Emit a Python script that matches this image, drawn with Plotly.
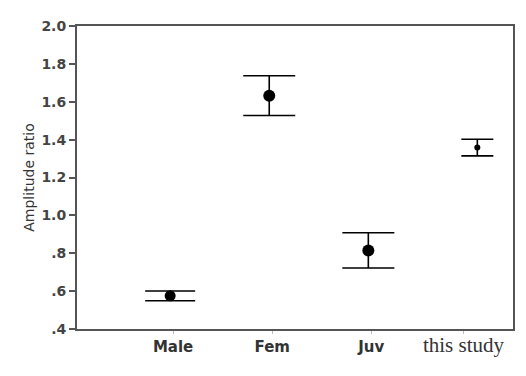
import plotly.graph_objects as go

# Group means with symmetric error half-widths (amplitude ratio)
categories = ["Male", "Fem", "Juv", "this study"]
means = [0.575, 1.632, 0.815, 1.358]
errors = [0.026, 0.105, 0.093, 0.044]

# Horizontal placement of groups and their labels
x_pos = [1, 2, 3, 4.1]
label_pos = [1.03, 2.03, 3.03, 3.96]
marker_sizes = [11, 12, 12, 6]
cap_halfwidth = [25, 26, 26, 16]

y_ticks = [0.4, 0.6, 0.8, 1.0, 1.2, 1.4, 1.6, 1.8, 2.0]
y_ticktext = [".4", ".6", ".8", "1.0", "1.2", "1.4", "1.6", "1.8", "2.0"]

fig = go.Figure()
for xp, m, e, s, w in zip(x_pos, means, errors, marker_sizes, cap_halfwidth):
    fig.add_trace(go.Scatter(
        x=[xp], y=[m], mode="markers",
        marker=dict(color="black", size=s),
        error_y=dict(type="data", array=[e], visible=True,
                     color="black", thickness=1.6, width=w),
        showlegend=False,
    ))

ticktext = []
for c in categories:
    if c == "this study":
        ticktext.append("<span style='font-family:\"Liberation Serif\", \"Times New Roman\", serif;font-weight:normal;font-size:21px'>%s</span>" % c)
    else:
        ticktext.append(c)

fig.update_layout(
    width=526, height=376,
    margin=dict(l=77, r=13, t=26, b=47),
    paper_bgcolor="white", plot_bgcolor="white",
    xaxis=dict(
        range=[0.06, 4.46],
        tickvals=label_pos, ticktext=ticktext,
        showgrid=False, zeroline=False,
        showline=True, mirror=True, linecolor="#555", linewidth=2,
        ticks="outside", ticklen=3, tickcolor="#bbb",
        tickfont=dict(family="DejaVu Sans", size=15, color="#333", weight="bold"),
    ),
    yaxis=dict(
        range=[0.4, 2.0],
        tickvals=y_ticks, ticktext=y_ticktext,
        showgrid=False, zeroline=False,
        showline=True, mirror=True, linecolor="#555", linewidth=2,
        ticks="outside", ticklen=6, tickcolor="#555", tickwidth=1.5,
        tickfont=dict(family="DejaVu Sans", size=14, color="#444", weight="bold"),
        title=dict(text="Amplitude ratio", standoff=3,
                   font=dict(family="DejaVu Sans", size=14, color="#333")),
    ),
)

fig.write_html("out.html")
